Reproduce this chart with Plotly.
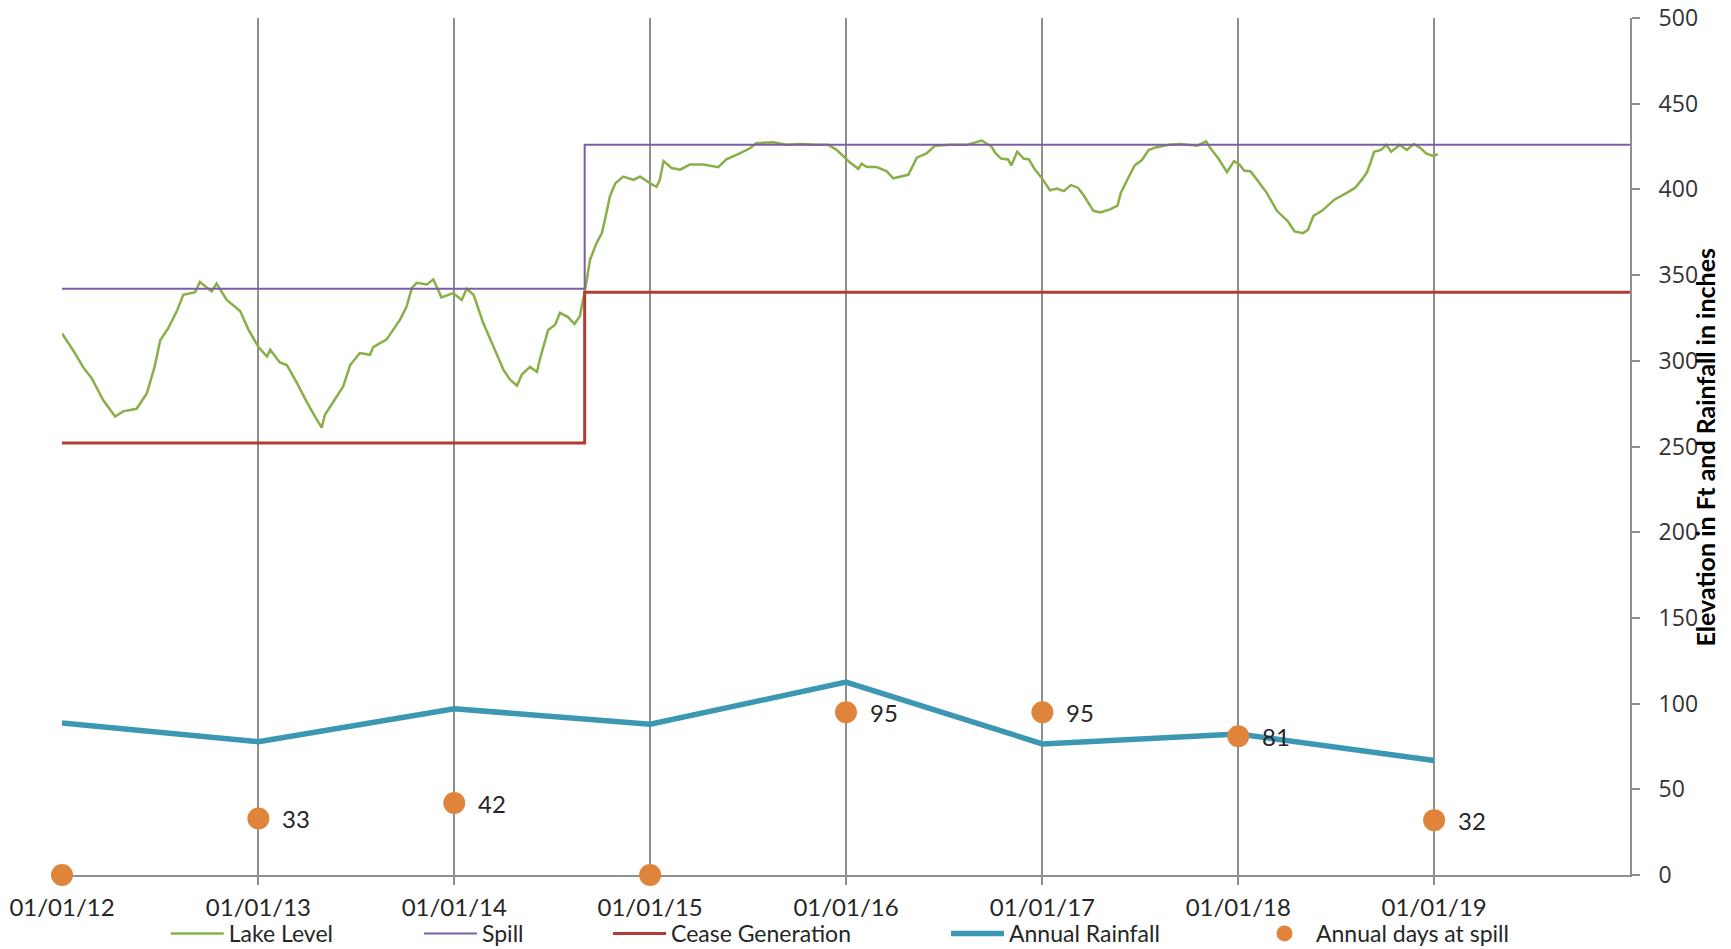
import plotly.graph_objects as go

# ---------------- data ----------------
years = ["2012-01-01", "2013-01-01", "2014-01-01", "2015-01-01",
         "2016-01-01", "2017-01-01", "2018-01-01", "2019-01-01"]
tick_labels = ["01/01/12", "01/01/13", "01/01/14", "01/01/15",
               "01/01/16", "01/01/17", "01/01/18", "01/01/19"]
annual_rainfall = [88.7, 77.8, 97.0, 88.0, 112.5, 76.5, 82.3, 66.8]
annual_days_at_spill = [0, 33, 42, 0, 95, 95, 81, 32]

spill_dates = ["2012-01-01", "2014-09-01", "2020-01-01"]
spill_vals = [342, 426, 426]
cease_dates = ["2012-01-01", "2014-09-01", "2020-01-01"]
cease_vals = [252, 340, 340]

lake_dates = [
    "2012-01-01", "2012-01-22", "2012-02-10", "2012-02-25", "2012-03-18", "2012-04-09",
    "2012-04-24", "2012-05-19", "2012-06-07", "2012-06-22", "2012-07-02", "2012-07-17",
    "2012-08-02", "2012-08-14", "2012-09-05", "2012-09-14", "2012-10-06", "2012-10-15",
    "2012-11-03", "2012-11-28", "2012-12-13", "2013-01-01", "2013-01-17", "2013-01-23",
    "2013-02-10", "2013-02-23", "2013-03-14", "2013-04-01", "2013-04-20", "2013-04-29",
    "2013-05-05", "2013-05-21", "2013-06-08", "2013-06-21", "2013-07-09", "2013-07-28",
    "2013-08-03", "2013-08-28", "2013-09-09", "2013-09-22", "2013-10-04", "2013-10-14",
    "2013-10-23", "2013-11-11", "2013-11-23", "2013-12-08", "2013-12-30", "2014-01-15",
    "2014-01-24", "2014-02-06", "2014-02-24", "2014-03-15", "2014-04-03", "2014-04-15",
    "2014-04-28", "2014-05-07", "2014-05-22", "2014-06-04", "2014-06-10", "2014-06-25",
    "2014-07-08", "2014-07-17", "2014-08-01", "2014-08-13", "2014-08-23", "2014-09-03",
    "2014-09-11", "2014-09-23", "2014-10-03", "2014-10-09", "2014-10-18", "2014-10-28",
    "2014-11-12", "2014-12-01", "2014-12-13", "2015-01-01", "2015-01-13", "2015-01-19",
    "2015-01-26", "2015-02-10", "2015-02-26", "2015-03-16", "2015-04-10", "2015-05-08",
    "2015-05-23", "2015-06-17", "2015-07-06", "2015-07-18", "2015-08-18", "2015-09-12",
    "2015-10-07", "2015-11-07", "2015-11-29", "2015-12-15", "2015-12-30", "2016-01-09",
    "2016-01-24", "2016-01-30", "2016-02-09", "2016-02-27", "2016-03-17", "2016-03-29",
    "2016-04-26", "2016-05-02", "2016-05-12", "2016-05-30", "2016-06-15", "2016-07-13",
    "2016-08-13", "2016-09-10", "2016-09-28", "2016-10-06", "2016-10-16", "2016-10-29",
    "2016-11-04", "2016-11-15", "2016-11-27", "2016-12-07", "2016-12-17", "2016-12-30",
    "2017-01-15", "2017-01-28", "2017-02-10", "2017-02-23", "2017-03-08", "2017-03-18",
    "2017-04-06", "2017-04-19", "2017-05-08", "2017-05-21", "2017-05-27", "2017-06-12",
    "2017-06-22", "2017-07-05", "2017-07-18", "2017-07-31", "2017-08-26", "2017-09-14",
    "2017-10-04", "2017-10-17", "2017-11-02", "2017-11-09", "2017-11-25", "2017-12-11",
    "2017-12-24", "2018-01-03", "2018-01-12", "2018-01-24", "2018-02-04", "2018-02-23",
    "2018-03-14", "2018-04-03", "2018-04-16", "2018-05-02", "2018-05-11", "2018-05-21",
    "2018-06-06", "2018-06-29", "2018-07-22", "2018-08-07", "2018-08-20", "2018-08-29",
    "2018-09-05", "2018-09-11", "2018-09-24", "2018-10-04", "2018-10-13", "2018-10-29",
    "2018-11-11", "2018-11-24", "2018-12-07", "2018-12-17", "2018-12-30", "2019-01-08",
]
lake_vals = [
    316, 306, 296, 290, 277, 267.5,
    270.5, 272, 281, 297, 312, 319,
    329, 338.5, 340, 346, 340.5, 345,
    335.5, 329, 318.5, 308, 302.5, 306.5,
    299, 297.5, 287, 276, 265.5, 261,
    268.5, 276, 285, 297.5, 304.5, 303.5,
    308, 312.5, 318, 324, 331.5, 342.5,
    345.5, 344.5, 347.5, 337, 339.5, 335.5,
    342, 338.5, 322, 308, 294.5, 289,
    285.5, 292, 296.5, 293.5, 301.5, 318,
    321, 328, 325.5, 321.5, 326, 343.5,
    359, 368.5, 374.5, 382.5, 396, 403.5,
    407.5, 405.5, 407.5, 403.5, 401.5, 405.5,
    416.5, 412.5, 411.5, 414.5, 414.5, 413,
    417.5, 421, 424, 427, 427.5, 426,
    426.5, 426, 426, 423, 418.5, 415.5,
    412, 415, 413, 413, 410.5, 406.5,
    408.5, 412.5, 418.5, 421, 425.5, 426,
    426, 428.5, 425, 421, 418, 417.5,
    414, 422, 418, 417.5, 412, 407,
    399.5, 400.5, 399, 402.5, 401, 397,
    387.5, 386.5, 388.5, 390.5, 398, 408,
    414, 417, 423, 424.5, 426, 426.5,
    426, 425.5, 428, 424.5, 418, 410,
    416.5, 414.5, 411, 410.5, 406, 398,
    387.5, 381.5, 375.5, 374.5, 376.5, 384.5,
    387.5, 394, 398, 401, 406, 410,
    416, 422, 423, 426, 422, 426,
    423, 426.5, 424, 421, 419.5, 420.5,
]

# ---------------- styling ----------------
FONT = "Lato, 'Liberation Sans', sans-serif"
TITLE_FONT = "'Liberation Sans Narrow', Lato, sans-serif"
TEXT = "#262626"
GRID = "#8f8f8f"
C_LAKE = "#8AAE48"
C_SPILL = "#7B5FA5"
C_CEASE = "#B23C34"
C_RAIN = "#3C97B2"
C_DAYS = "#DF843A"

fig = go.Figure()
fig.add_trace(go.Scatter(x=lake_dates, y=lake_vals, mode="lines", name="Lake Level",
                         line=dict(color=C_LAKE, width=2.5), legend="legend"))
fig.add_trace(go.Scatter(x=spill_dates, y=spill_vals, mode="lines", name="Spill",
                         line=dict(color=C_SPILL, width=2, shape="hv"), legend="legend2"))
fig.add_trace(go.Scatter(x=cease_dates, y=cease_vals, mode="lines", name="Cease Generation",
                         line=dict(color=C_CEASE, width=3, shape="hv"), legend="legend3"))
fig.add_trace(go.Scatter(x=years, y=annual_rainfall, mode="lines", name="Annual Rainfall",
                         line=dict(color=C_RAIN, width=5.5), legend="legend4"))
fig.add_trace(go.Scatter(x=years, y=annual_days_at_spill, mode="markers",
                         name="Annual days at spill", cliponaxis=False,
                         marker=dict(color=C_DAYS, size=22, line=dict(width=0)),
                         legend="legend5"))

for d, v in zip(years, annual_days_at_spill):
    if v:
        fig.add_annotation(x=d, y=v, text=str(v), showarrow=False, xanchor="left",
                           yanchor="middle", xshift=22,
                           font=dict(family=FONT, size=24, color=TEXT))

fig.add_annotation(xref="paper", yref="paper", x=1.0478, y=0.5,
                   text="<b>Elevation in Ft and Rainfall in inches</b>",
                   textangle=-90, showarrow=False, xanchor="center", yanchor="middle",
                   font=dict(family=TITLE_FONT, size=25, color="#000000"))

def legend_at(px, iw):
    return dict(orientation="h", xref="container", yref="container",
                x=px / 1731, y=1 - 933.5 / 949, xanchor="left", yanchor="middle",
                bgcolor="rgba(0,0,0,0)", borderwidth=0, itemwidth=iw,
                font=dict(family=FONT, size=23, color=TEXT))

fig.update_layout(
    width=1731, height=949,
    margin=dict(l=62, r=101, t=18, b=74),
    plot_bgcolor="white", paper_bgcolor="white",
    showlegend=True,
    legend=legend_at(165.7, 53),
    legend2=legend_at(419, 53),
    legend3=legend_at(608, 53),
    legend4=legend_at(946, 53),
    legend5=legend_at(1253, 53),
    xaxis=dict(type="date", range=["2012-01-01", "2020-01-01"],
               tickvals=years, ticktext=tick_labels,
               showgrid=True, gridcolor=GRID, gridwidth=2,
               showline=True, linecolor=GRID, linewidth=2,
               ticks="outside", ticklen=8, tickwidth=2, tickcolor=GRID,
               tickfont=dict(family=FONT, size=24, color=TEXT),
               zeroline=False, layer="below traces", automargin=False,
               ticklabelstandoff=2),
    yaxis=dict(side="right", range=[0, 500], tick0=0, dtick=50,
               showgrid=False, zeroline=False,
               showline=True, linecolor=GRID, linewidth=2,
               ticks="outside", ticklen=8, tickwidth=2, tickcolor=GRID,
               tickfont=dict(family="'Open Sans', sans-serif", size=23, color="#333333"),
               automargin=False, ticklabelstandoff=14),
)

fig.write_html("out.html", config={"displayModeBar": False},
               post_script="document.body.style.margin='0';document.body.style.overflow='hidden';")
